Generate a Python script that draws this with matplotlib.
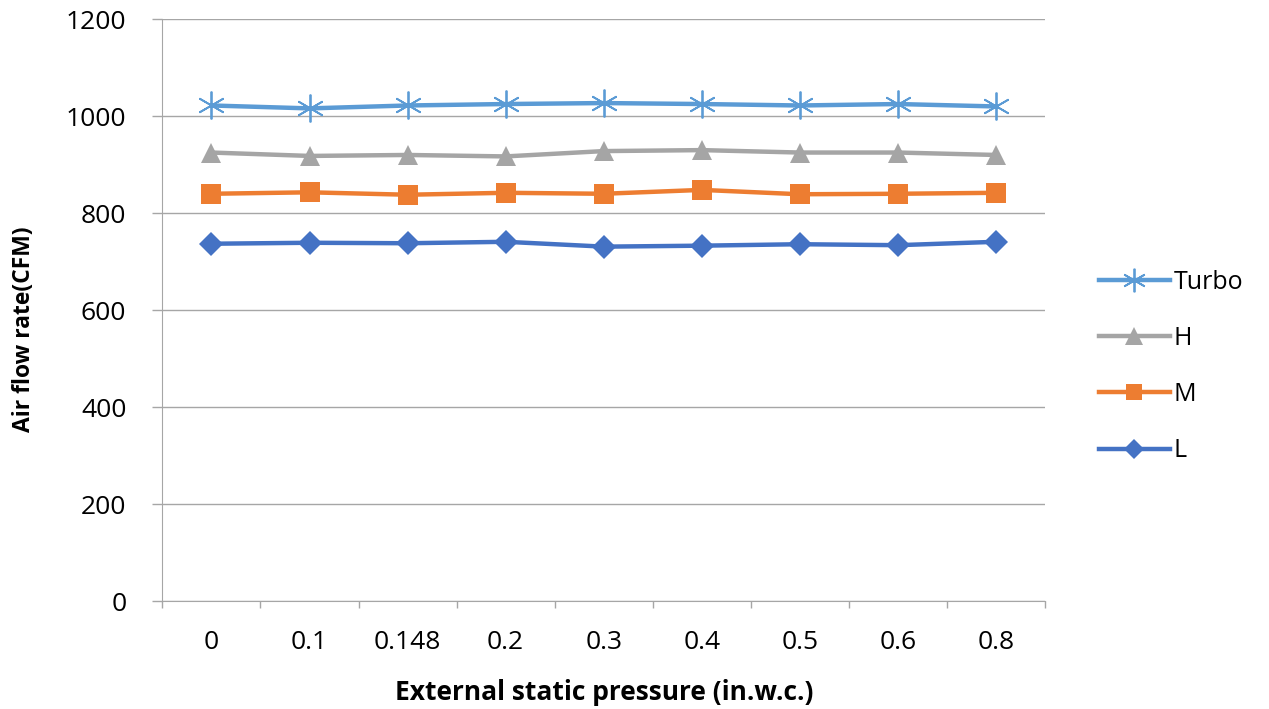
import numpy as np
import matplotlib
matplotlib.use("Agg")
import matplotlib.pyplot as plt

plt.rcParams['font.family'] = ['Open Sans', 'DejaVu Sans']

# data
pressure = ['0', '0.1', '0.148', '0.2', '0.3', '0.4', '0.5', '0.6', '0.8']
turbo = [1022, 1016, 1022, 1025, 1027, 1025, 1022, 1025, 1020]
high = [925, 918, 920, 917, 928, 930, 925, 925, 920]
med = [840, 843, 838, 842, 840, 848, 839, 840, 842]
low = [737, 739, 738, 741, 731, 733, 736, 734, 741]

series = [
    ('Turbo', turbo, '#5B9BD5', (6, 2, 0), 20),
    ('H', high, '#A5A5A5', '^', 15),
    ('M', med, '#ED7D31', 's', 14),
    ('L', low, '#4472C4', 'D', 12),
]

fig = plt.figure(figsize=(12.69, 7.09), dpi=100)
ax = fig.add_axes([0.128, 0.152, 0.6955, 0.821])

x = np.arange(len(pressure))
for name, vals, col, mk, ms in series:
    kw = dict(markeredgewidth=1.3) if name == 'Turbo' else dict(markeredgewidth=0)
    ax.plot(x, vals, color=col, lw=3.2, marker=mk, markersize=ms,
            markerfacecolor=col, markeredgecolor=col, label=name, **kw)

ax.set_xlim(-0.5, len(pressure) - 0.5)
ax.set_ylim(0, 1200)
ax.set_yticks(range(0, 1201, 200))
ax.set_xticks(x)
ax.set_xticklabels(pressure)
ax.set_xticks(np.arange(-0.5, len(pressure)), minor=True)
ax.tick_params(axis='x', which='major', length=0, pad=21, labelsize=19)
ax.tick_params(axis='x', which='minor', length=5, color='#A6A6A6', width=1)
ax.tick_params(axis='y', length=7, color='#A6A6A6', width=1, pad=19, labelsize=19)

ax.grid(axis='y', color='#A6A6A6', lw=1)
ax.set_axisbelow(True)
for s in ['top', 'right']:
    ax.spines[s].set_visible(False)
for s in ['left', 'bottom']:
    ax.spines[s].set_color('#A6A6A6')

ax.set_xlabel('External static pressure (in.w.c.)', fontsize=19, fontweight='bold')
ax.set_ylabel('Air flow rate(CFM)', fontsize=16.5, fontweight='bold')
ax.xaxis.set_label_coords(0.5, -0.133)
ax.yaxis.set_label_coords(-0.143, 0.467)

handles, labels = ax.get_legend_handles_labels()
fig.legend(handles, labels, loc='center left', bbox_to_anchor=(0.848, 0.483),
           frameon=False, fontsize=18, handlelength=2.85, labelspacing=1.25,
           handletextpad=0.15, markerscale=0.85)

fig.savefig('out.png', dpi=100)
